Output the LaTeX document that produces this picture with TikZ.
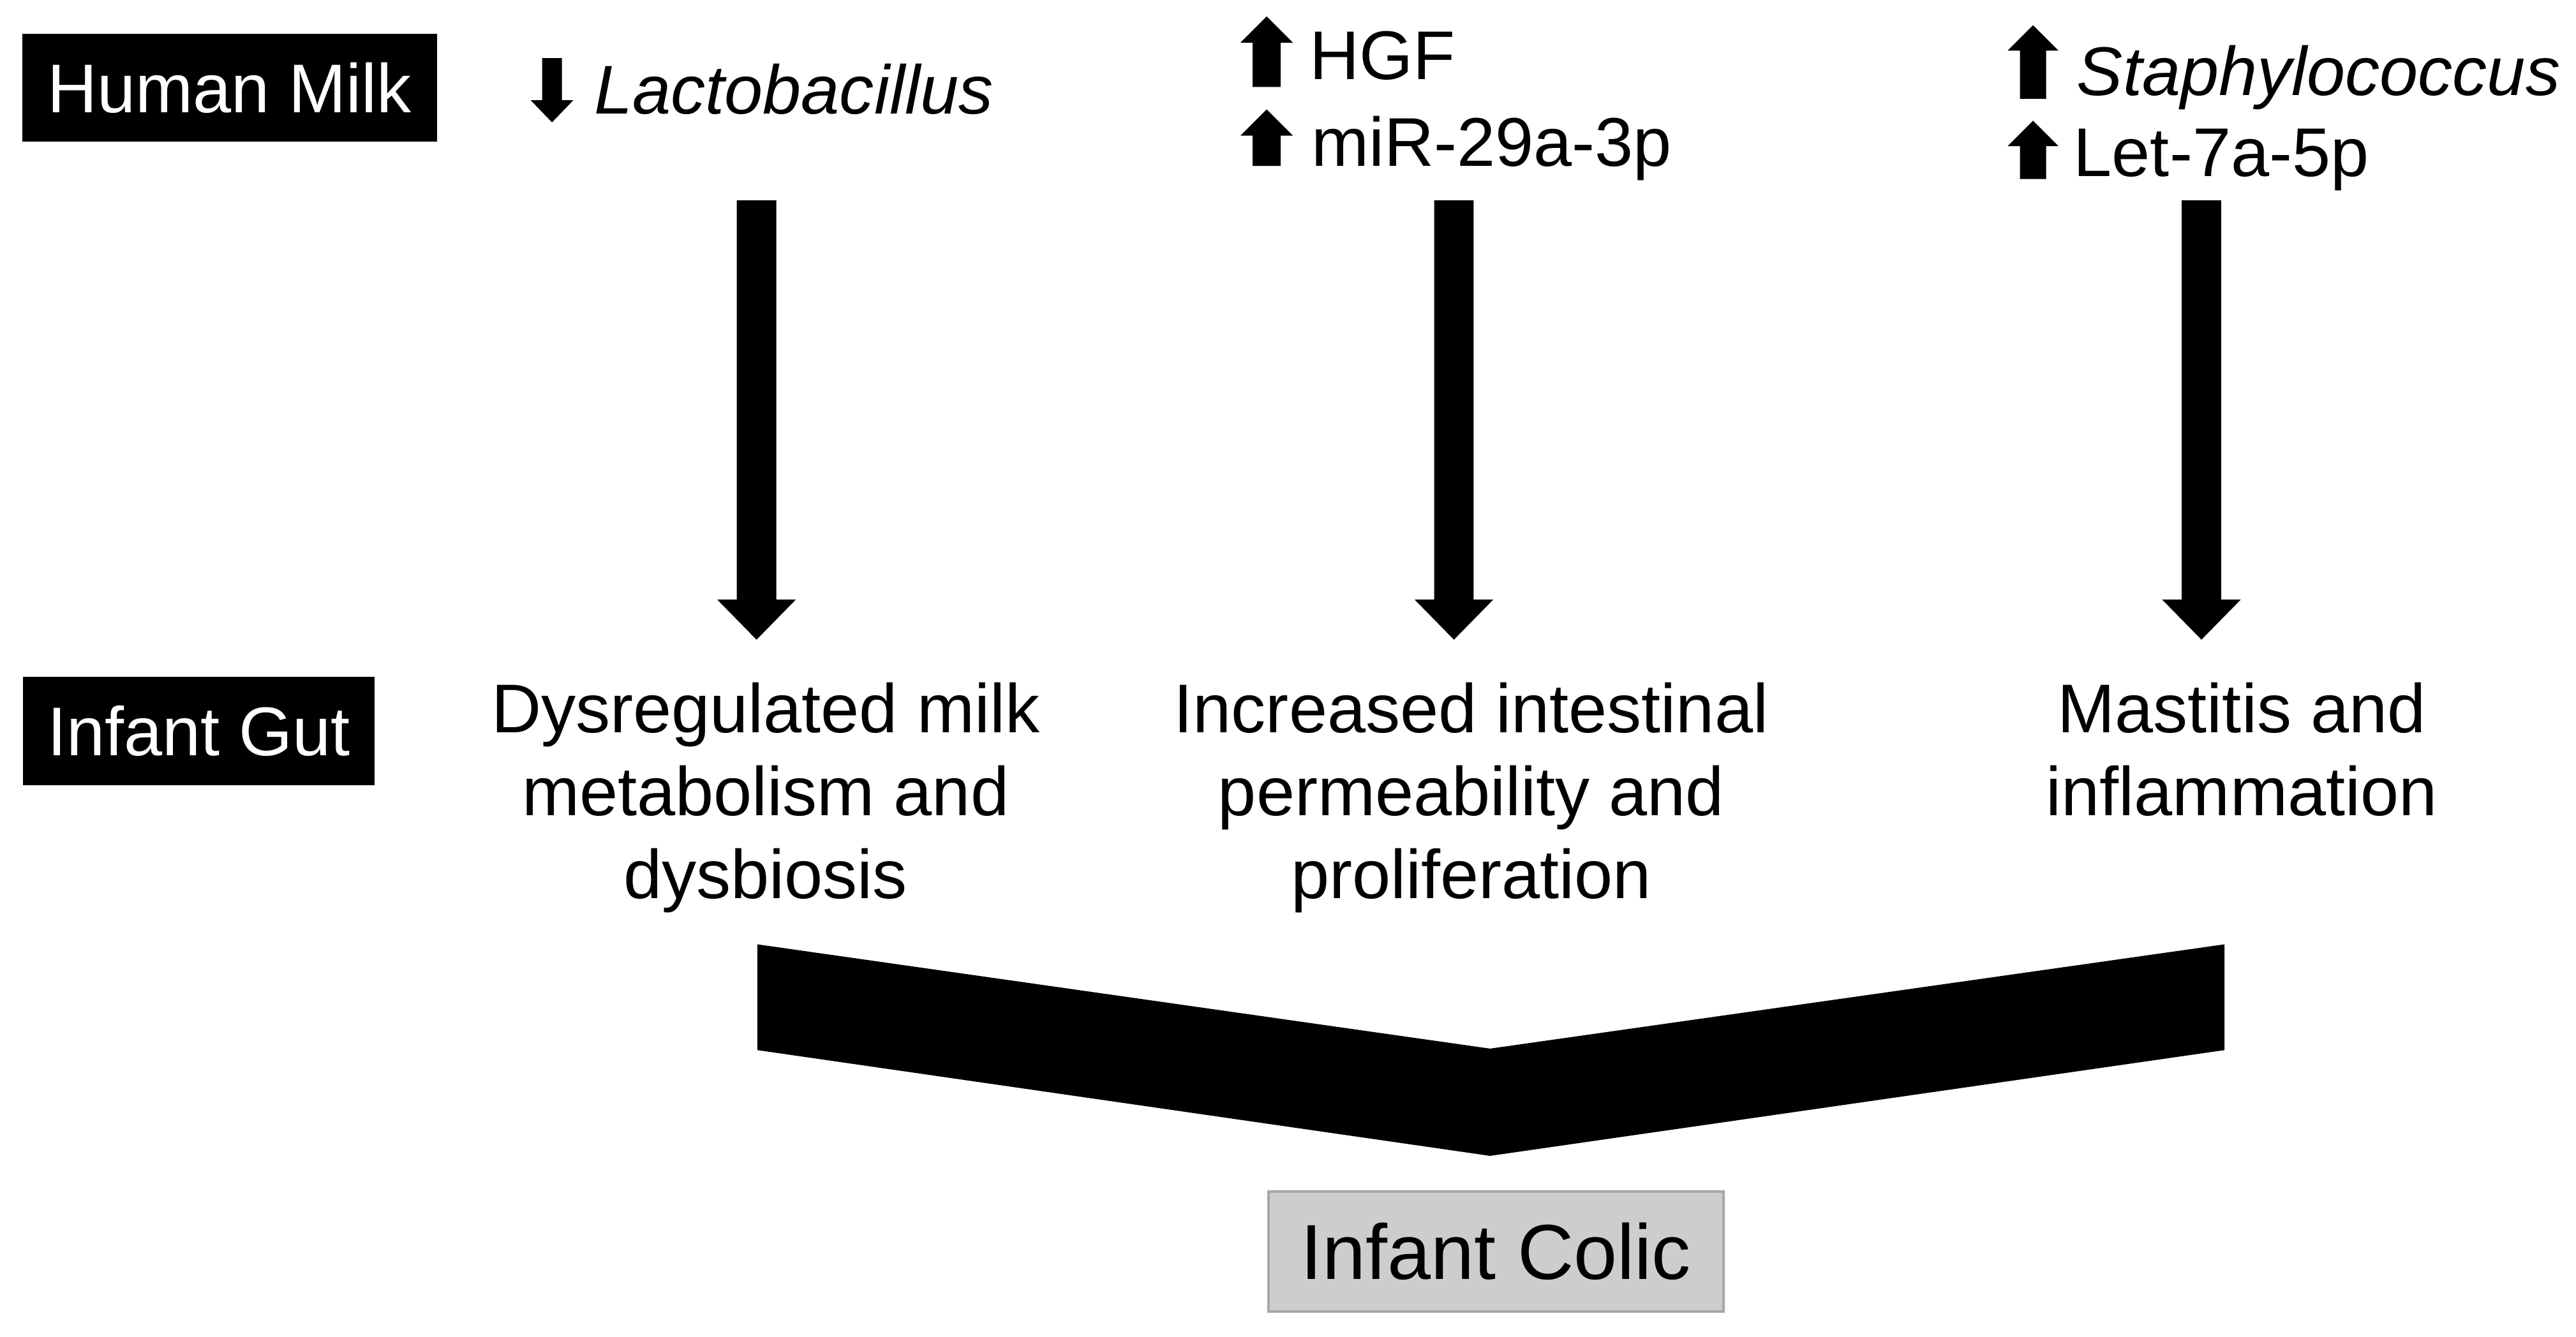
\documentclass[tikz,border=0pt]{standalone}
\usepackage{fontspec}
\setmainfont{Liberation Sans}
\usetikzlibrary{calc}
\definecolor{colicfill}{HTML}{CDCDCD}
\definecolor{colicline}{HTML}{A6A6A6}
% block arrow: #1 x, #2 tail y, #3 head-base y, #4 tip y, #5 half shaft, #6 half head
\newcommand\blockarr[6]{\fill (#1-#5,#2) -- (#1-#5,#3) -- (#1-#6,#3) -- (#1,#4) -- (#1+#6,#3) -- (#1+#5,#3) -- (#1+#5,#2) -- cycle;}
\begin{document}
\begin{tikzpicture}[x=1pt,y=-1pt,
  lbl/.style={inner sep=0pt, anchor=base west, font=\fontsize{42}{50.5}\selectfont},
  guttext/.style={inner sep=0pt, anchor=base, align=center, font=\fontsize{42}{50.5}\selectfont},
  blackbox/.style={fill=black, text=white, inner sep=0pt, font=\fontsize{42}{50.5}\selectfont},
  colicbox/.style={fill=colicfill, draw=colicline, line width=1.5pt, inner sep=0pt,
    minimum width=277pt, minimum height=73pt, font=\fontsize{47.5}{56}\selectfont}]
\useasboundingbox (0,0) rectangle (1568,814);

% row labels
\node[blackbox, minimum width=252.5pt, minimum height=65.8pt] (hm) at (139.75,53.5) {Human Milk};
\node[blackbox, minimum width=214pt, minimum height=66pt] (ig) at (121,445) {Infant Gut};

% milk items
\node[lbl] (lacto) at (361.5,69.5) {\itshape Lactobacillus};
\node[lbl] (hgf) at (797,48.5) {HGF};
\node[lbl] (mir) at (798,101) {miR-29a-3p};
\node[lbl] (staph) at (1264,58) {\itshape Staphylococcus};
\node[lbl] (let) at (1262,107.5) {Let-7a-5p};

% small up/down arrows
\blockarr{336}{35.4}{61}{74.5}{6}{13}
\blockarr{771}{53}{26}{10}{8.5}{16}
\blockarr{771}{101}{82.6}{66.6}{8.5}{16}
\blockarr{1237.5}{60.2}{30.8}{15.3}{8}{15.5}
\blockarr{1237.5}{109}{89}{73.5}{8}{15.5}

% gut items (base anchor = baseline of last line)
\node[guttext] (g1) at (466,547) {Dysregulated milk\\metabolism and\\dysbiosis};
\node[guttext] (g2) at (895.5,547) {Increased intestinal\\permeability and\\proliferation};
\node[guttext] (g3) at (1364.5,496.5) {Mastitis and\\inflammation};

% big arrows (connectors)
\coordinate (a1s) at (460.5,122);  \coordinate (a1e) at (460.5,389.5);
\coordinate (a2s) at (885,122);    \coordinate (a2e) at (885,389.5);
\coordinate (a3s) at (1340,122);   \coordinate (a3e) at (1340,389.5);
\foreach \s/\e in {a1s/a1e,a2s/a2e,a3s/a3e}{
  \fill ($(\s)+(-12,0)$) -- ($(\e)+(-12,-24.5)$) -- ($(\e)+(-24,-24.5)$) -- (\e)
     -- ($(\e)+(24,-24.5)$) -- ($(\e)+(12,-24.5)$) -- ($(\s)+(12,0)$) -- cycle;
}

% chevron
\fill (461,575) -- (907,638.5) -- (1354,575) -- (1354,639.4) -- (907,703.8) -- (461,639.4) -- cycle;

% outcome
\node[colicbox] (ic) at (910.5,762) {Infant Colic};
\end{tikzpicture}
\end{document}
